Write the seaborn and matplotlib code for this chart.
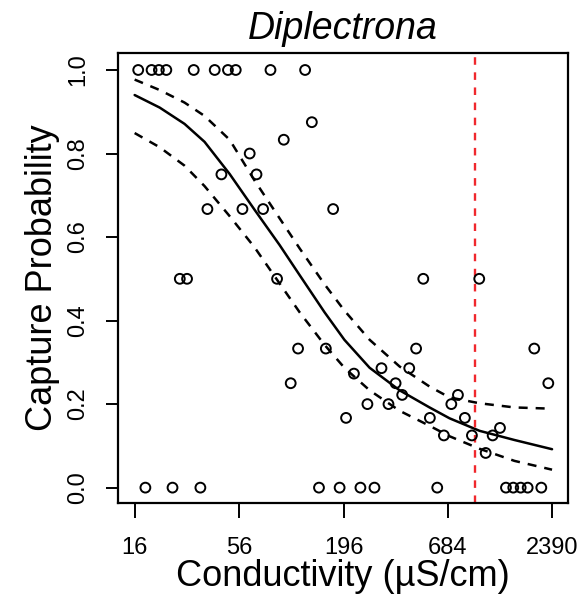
import matplotlib
matplotlib.use('Agg')
from matplotlib import pyplot as plt
import pandas as pd
import seaborn as sns

# observed capture proportions vs conductivity (uS/cm)
conductivity = [16.7, 19.6, 21.4, 23.4, 32.5, 41.8, 49.0, 53.8, 81.6, 123.6,
                134, 95.7, 63.6, 45.3, 69.0, 38.3, 58.3, 74.7, 173,
                27.5, 30.0, 88.3, 510, 998,
                113.6, 158.5, 468, 1931,
                104, 366, 2285, 222, 309, 431, 396, 773,
                261, 336, 714, 202, 552, 840,
                653, 914, 1172, 1280, 1078,
                18.2, 25.2, 35.2, 146, 187, 240, 284, 603,
                1375, 1501, 1640, 1784, 2101]
capture = [1.0, 1.0, 1.0, 1.0, 1.0, 1.0, 1.0, 1.0, 1.0, 1.0,
           0.875, 0.833, 0.8, 0.75, 0.75, 0.667, 0.667, 0.667, 0.667,
           0.5, 0.5, 0.5, 0.5, 0.5,
           0.333, 0.333, 0.333, 0.333,
           0.25, 0.25, 0.25, 0.273, 0.286, 0.286, 0.222, 0.222,
           0.2, 0.2, 0.2, 0.167, 0.167, 0.167,
           0.125, 0.125, 0.125, 0.143, 0.083,
           0, 0, 0, 0, 0, 0, 0, 0,
           0, 0, 0, 0, 0]

# fitted curve and confidence band
curve_x = [16.0, 21.6, 29.1, 37.0, 50.0, 67.5, 91.0, 115.7, 156, 198,
           268, 384, 550, 699, 1002, 1524, 2390]
fit = [0.940, 0.910, 0.871, 0.828, 0.751, 0.665, 0.581, 0.509, 0.420, 0.354,
       0.287, 0.233, 0.192, 0.166, 0.136, 0.114, 0.092]
upper = [0.977, 0.952, 0.922, 0.890, 0.833, 0.735, 0.645, 0.573, 0.487, 0.424,
         0.354, 0.290, 0.242, 0.216, 0.202, 0.192, 0.189]
lower = [0.849, 0.815, 0.771, 0.722, 0.650, 0.575, 0.489, 0.420, 0.342, 0.287,
         0.233, 0.184, 0.148, 0.123, 0.093, 0.064, 0.043]

threshold = 950
tick_vals = [16, 56, 196, 684, 2390]
tick_labels = ['16', '56', '196', '684', '2390']

sns.set_theme(style='ticks', rc={'text.color': 'black', 'axes.labelcolor': 'black',
                                 'xtick.color': 'black', 'ytick.color': 'black',
                                 'axes.edgecolor': 'black'})
plt.rcParams['font.family'] = ['Liberation Sans', 'DejaVu Sans']

pts = pd.DataFrame({'cond': conductivity, 'p': capture})
crv = pd.DataFrame({'cond': curve_x, 'fit': fit, 'upper': upper, 'lower': lower})

fig = plt.figure(figsize=(5.82, 6.02), dpi=100)
ax = fig.add_axes([0.2027, 0.165, 0.7738, 0.7465])

sns.scatterplot(data=pts, x='cond', y='p', ax=ax, marker='o', s=50,
                facecolor='none', edgecolor='black', linewidth=1.4, zorder=3)
sns.lineplot(data=crv, x='cond', y='fit', ax=ax, color='black', lw=1.8)
for col in ['upper', 'lower']:
    sns.lineplot(data=crv, x='cond', y=col, ax=ax, color='black', lw=1.8,
                 linestyle=(0, (3.6, 3.2)))
ax.axvline(threshold, color='#f0282d', lw=1.7, linestyle=(0, (3.2, 3.2)))

ax.set_xscale('log')
ax.set_xlim(13.1, 2905)
ax.set_ylim(-0.036, 1.04)
ax.set_xticks(tick_vals)
ax.set_xticklabels(tick_labels)
ax.minorticks_off()
ax.set_yticks([0, 0.2, 0.4, 0.6, 0.8, 1.0])
ax.set_yticklabels(['0.0', '0.2', '0.4', '0.6', '0.8', '1.0'], rotation=90, va='center')

ax.tick_params(axis='x', length=11, width=1.4, pad=14, labelsize=17)
ax.tick_params(axis='y', length=9, width=1.4, pad=12, labelsize=17)
for s in ax.spines.values():
    s.set_linewidth(1.6)

ax.set_xlabel('Conductivity (µS/cm)', fontsize=26, labelpad=0)
ax.set_ylabel('Capture Probability', fontsize=26, labelpad=5)
ax.set_title('Diplectrona', fontsize=27, style='italic', pad=10)

fig.savefig('out.png', dpi=100)
